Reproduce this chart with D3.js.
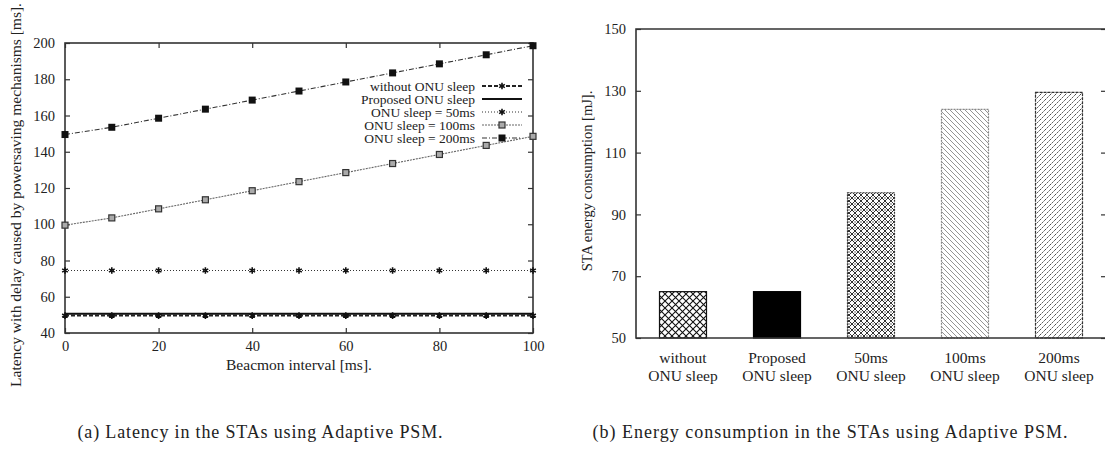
<!DOCTYPE html>
<html>
<head>
<meta charset="utf-8">
<script src="https://cdn.jsdelivr.net/npm/d3@7"></script>
<style>
  body { margin: 0; background: #fff; }
  svg, svg text { font-family: "Liberation Serif", "Times New Roman", Times, serif; fill: #222; }
</style>
</head>
<body>
<svg id="chart" width="1105" height="455"></svg>
<script>
// ---- data: (a) latency vs beacon interval ----
const beaconInterval = [0, 10, 20, 30, 40, 50, 60, 70, 80, 90, 100]
const withoutSleep = [49.6, 49.6, 49.6, 49.6, 49.6, 49.6, 49.6, 49.6, 49.6, 49.6, 49.6]
const proposedSleep = [50.6, 50.6, 50.6, 50.6, 50.6, 50.6, 50.6, 50.6, 50.6, 50.6, 50.6]
const sleep50 = [74.5, 74.5, 74.5, 74.5, 74.5, 74.5, 74.5, 74.5, 74.5, 74.5, 74.5]
const sleep100 = [99.5, 103.5, 108.5, 113.5, 118.5, 123.5, 128.5, 133.5, 138.5, 143.5, 148.5]
const sleep200 = [149.5, 153.5, 158.5, 163.5, 168.5, 173.5, 178.5, 183.5, 188.5, 193.5, 198.5]
const latencyNames = ['without ONU sleep', 'Proposed ONU sleep', 'ONU sleep = 50ms', 'ONU sleep = 100ms', 'ONU sleep = 200ms']
const xTicksA = [0, 20, 40, 60, 80, 100]
const yTicksA = [40, 60, 80, 100, 120, 140, 160, 180, 200]

// ---- data: (b) energy consumption ----
const energyLabels = [['without', 'ONU sleep'], ['Proposed', 'ONU sleep'], ['50ms', 'ONU sleep'], ['100ms', 'ONU sleep'], ['200ms', 'ONU sleep']]
const energyValues = [65, 65, 97, 124, 129.5]
const yTicksB = [50, 70, 90, 110, 130, 150]

const FONT = '"Liberation Serif", "Times New Roman", Times, serif'
const svg = d3.select('#chart').attr('font-family', FONT)
const defs = svg.append('defs')

// hatch patterns for the bars
function addPattern (id, size, draw) {
  const p = defs.append('pattern')
    .attr('id', id)
    .attr('patternUnits', 'userSpaceOnUse')
    .attr('width', size)
    .attr('height', size)
  p.append('rect').attr('width', size).attr('height', size).attr('fill', '#fff')
  draw(p, size)
}
addPattern('pat-cross', 7, (p, s) => {
  p.append('path').attr('d', `M0,0L${s},${s}M${s},0L0,${s}`)
    .attr('stroke', '#111').attr('stroke-width', 1.1)
})
addPattern('pat-dense', 6, (p, s) => {
  p.append('path').attr('d', `M0,0L${s},${s}M${s},0L0,${s}M-1,${s - 1}L1,${s + 1}M${s - 1},-1L${s + 1},1`)
    .attr('stroke', '#333').attr('stroke-width', 1)
  p.append('circle').attr('cx', s / 2).attr('cy', 0).attr('r', 0.8).attr('fill', '#555')
  p.append('circle').attr('cx', s / 2).attr('cy', s).attr('r', 0.8).attr('fill', '#555')
})
addPattern('pat-back', 5, (p, s) => {
  p.append('path').attr('d', `M0,0L${s},${s}M-1,${s - 1}L1,${s + 1}M${s - 1},-1L${s + 1},1`)
    .attr('stroke', '#888').attr('stroke-width', 0.9)
})
addPattern('pat-fwd', 5, (p, s) => {
  p.append('path').attr('d', `M0,${s}L${s},0M-1,1L1,-1M${s - 1},${s + 1}L${s + 1},${s - 1}`)
    .attr('stroke', '#333').attr('stroke-width', 0.9).attr('stroke-dasharray', '2,1')
})

// ================= (a) =================
const A = { left: 65, right: 533, top: 43, bottom: 333 }
const xA = d3.scaleLinear().domain([0, 100]).range([A.left, A.right])
const yA = d3.scaleLinear().domain([40, 200]).range([A.bottom, A.top])

const gA = svg.append('g')

function styleAxis (g) {
  g.attr('font-family', FONT)
  g.select('.domain').remove()
  g.selectAll('.tick line').attr('stroke', '#333').attr('stroke-width', 1.2)
  g.selectAll('.tick text').attr('font-size', 14.5).attr('fill', '#222')
}

gA.append('g').attr('transform', `translate(0,${A.bottom})`)
  .call(d3.axisBottom(xA).tickValues(xTicksA).tickSize(-5).tickPadding(8))
  .call(styleAxis)
gA.append('g').attr('transform', `translate(0,${A.top})`)
  .call(d3.axisTop(xA).tickValues(xTicksA).tickSize(-5).tickFormat(''))
  .call(styleAxis)
gA.append('g').attr('transform', `translate(${A.left},0)`)
  .call(d3.axisLeft(yA).tickValues(yTicksA).tickSize(-5).tickPadding(10))
  .call(styleAxis)
gA.append('g').attr('transform', `translate(${A.right},0)`)
  .call(d3.axisRight(yA).tickValues(yTicksA).tickSize(-5).tickFormat(''))
  .call(styleAxis)

gA.append('rect')
  .attr('x', A.left).attr('y', A.top)
  .attr('width', A.right - A.left).attr('height', A.bottom - A.top)
  .attr('fill', 'none').attr('stroke', '#333').attr('stroke-width', 1.6)

const seriesA = [
  { name: latencyNames[0], values: withoutSleep, stroke: '#222', width: 2, dash: '4,2', marker: 'star' },
  { name: latencyNames[1], values: proposedSleep, stroke: '#111', width: 2, dash: null, marker: null },
  { name: latencyNames[2], values: sleep50, stroke: '#333', width: 1.1, dash: '1,2', marker: 'star' },
  { name: latencyNames[3], values: sleep100, stroke: '#666', width: 1.1, dash: '2,1', marker: 'open' },
  { name: latencyNames[4], values: sleep200, stroke: '#333', width: 1.1, dash: '5,2,1,2', marker: 'filled' }
]

const line = d3.line().x((d, i) => xA(beaconInterval[i])).y(d => yA(d))

function drawMarker (g, kind, x, y) {
  if (kind === 'star') {
    g.append('path')
      .attr('transform', `translate(${x},${y})`)
      .attr('d', d3.symbol(d3.symbolAsterisk, 30)())
      .attr('stroke', '#111').attr('stroke-width', 1.6).attr('fill', 'none')
  } else if (kind === 'open') {
    g.append('rect').attr('x', x - 3).attr('y', y - 3).attr('width', 6).attr('height', 6)
      .attr('fill', '#aaa').attr('stroke', '#333').attr('stroke-width', 1.2)
  } else if (kind === 'filled') {
    g.append('rect').attr('x', x - 3.5).attr('y', y - 3.5).attr('width', 7).attr('height', 7)
      .attr('fill', '#111')
  }
}

seriesA.forEach(s => {
  gA.append('path')
    .attr('d', line(s.values))
    .attr('fill', 'none')
    .attr('stroke', s.stroke)
    .attr('stroke-width', s.width)
    .attr('stroke-dasharray', s.dash)
  if (s.marker) {
    s.values.forEach((v, i) => drawMarker(gA, s.marker, xA(beaconInterval[i]), yA(v)))
  }
})

// legend
const leg = gA.append('g')
seriesA.forEach((s, i) => {
  const y = 86 + i * 13
  leg.append('text').attr('x', 475).attr('y', y).attr('dy', '0.35em')
    .attr('text-anchor', 'end').attr('font-size', 13.5).text(s.name)
  leg.append('line').attr('x1', 482).attr('x2', 522).attr('y1', y).attr('y2', y)
    .attr('stroke', s.stroke).attr('stroke-width', s.width).attr('stroke-dasharray', s.dash)
  if (s.marker) drawMarker(leg, s.marker, 502, y)
})

gA.append('text')
  .attr('x', (A.left + A.right) / 2).attr('y', 370)
  .attr('text-anchor', 'middle').attr('font-size', 15.5)
  .text('Beacmon interval [ms].')

gA.append('text')
  .attr('transform', `translate(21,195) rotate(-90)`)
  .attr('text-anchor', 'middle').attr('font-size', 15.5)
  .text('Latency with delay caused by powersaving mechanisms [ms].')

svg.append('text')
  .attr('x', 260).attr('y', 438)
  .attr('text-anchor', 'middle').attr('font-size', 18)
  .attr('textLength', 365).attr('lengthAdjust', 'spacing')
  .text('(a) Latency in the STAs using Adaptive PSM.')

// ================= (b) =================
const B = { left: 636, right: 1106, top: 29, bottom: 338 }
const xB = d3.scaleBand().domain(d3.range(energyValues.length)).range([B.left, B.right]).paddingInner(0.5).paddingOuter(0.25)
const yB = d3.scaleLinear().domain([50, 150]).range([B.bottom, B.top])

const gB = svg.append('g')

gB.append('g').attr('transform', `translate(${B.left},0)`)
  .call(d3.axisLeft(yB).tickValues(yTicksB).tickSize(-5).tickPadding(10))
  .call(styleAxis)
gB.append('g').attr('transform', `translate(${B.right},0)`)
  .call(d3.axisRight(yB).tickValues(yTicksB).tickSize(-5).tickFormat(''))
  .call(styleAxis)

const patterns = ['url(#pat-cross)', '#000', 'url(#pat-dense)', 'url(#pat-back)', 'url(#pat-fwd)']
const borders = [['#111', null], ['#000', null], ['#333', '2,1'], ['#888', '2,1'], ['#333', '3,1']]

gB.selectAll('rect.bar')
  .data(energyValues)
  .join('rect')
  .attr('class', 'bar')
  .attr('x', (d, i) => xB(i))
  .attr('y', d => yB(d))
  .attr('width', xB.bandwidth())
  .attr('height', d => yB(50) - yB(d))
  .attr('fill', (d, i) => patterns[i])
  .attr('stroke', (d, i) => borders[i][0])
  .attr('stroke-width', 1.2)
  .attr('stroke-dasharray', (d, i) => borders[i][1])

gB.append('path')
  .attr('d', `M${B.right},${B.bottom}H${B.left}V${B.top}H${B.right}`)
  .attr('fill', 'none').attr('stroke', '#333').attr('stroke-width', 1.6)

const catG = gB.selectAll('text.cat')
  .data(energyLabels)
  .join('text')
  .attr('class', 'cat')
  .attr('text-anchor', 'middle')
  .attr('font-size', 15.5)
  .attr('x', (d, i) => xB(i) + xB.bandwidth() / 2)
catG.append('tspan').attr('y', 363).text(d => d[0])
catG.append('tspan').attr('y', 381).attr('x', (d, i) => xB(i) + xB.bandwidth() / 2).text(d => d[1])

gB.append('text')
  .attr('transform', `translate(592,181) rotate(-90)`)
  .attr('text-anchor', 'middle').attr('font-size', 14.5)
  .text('STA energy consumption [mJ].')

svg.append('text')
  .attr('x', 830).attr('y', 438)
  .attr('text-anchor', 'middle').attr('font-size', 18)
  .attr('textLength', 475).attr('lengthAdjust', 'spacing')
  .text('(b) Energy consumption in the STAs using Adaptive PSM.')
</script>
</body>
</html>
